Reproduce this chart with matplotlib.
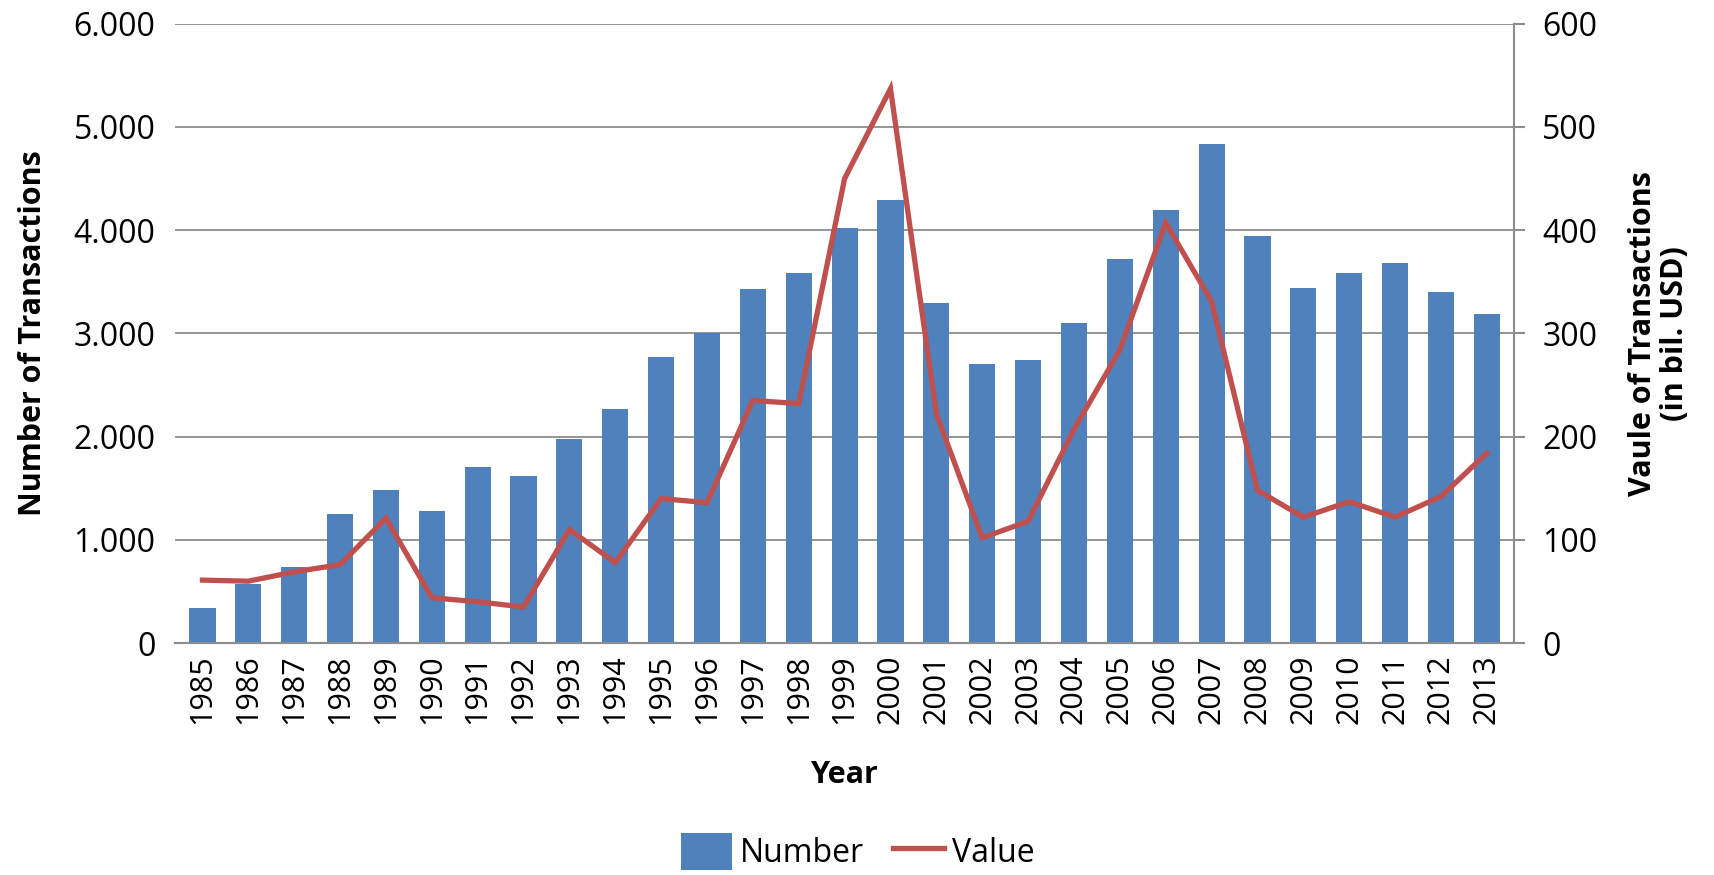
import numpy as np
import matplotlib
matplotlib.use("Agg")
import matplotlib.pyplot as plt
from matplotlib.ticker import FuncFormatter

plt.rcParams['font.family'] = ['Open Sans', 'DejaVu Sans']

# data
years = list(range(1985, 2014))
number = [343, 572, 740, 1246, 1483, 1283, 1708, 1614, 1978, 2272,
          2771, 3000, 3425, 3588, 4017, 4287, 3294, 2701, 2746, 3102,
          3723, 4197, 4830, 3939, 3437, 3580, 3682, 3400, 3191]
value = [61, 60, 69, 76, 121, 44, 40, 35, 110, 78,
         140, 136, 235, 232, 450, 537, 222, 102, 118, 207,
         284, 407, 331, 148, 122, 137, 122, 142, 184]

bar_color = '#4F81BD'
line_color = '#C0504D'
grid_color = '#8C8C8C'

fig = plt.figure(figsize=(17.15, 8.75), dpi=100)
ax = fig.add_axes([0.102, 0.265, 0.781, 0.708])
ax2 = ax.twinx()

x = np.arange(len(years))
bars = ax.bar(x, number, width=0.57, color=bar_color, zorder=2, label='Number')
line, = ax2.plot(x, value, color=line_color, linewidth=3.8, zorder=3,
                 solid_joinstyle='miter', label='Value')

ax.set_xlim(-0.6, len(years) - 0.4)
ax.set_ylim(0, 6000)
ax2.set_ylim(0, 600)
ax.set_yticks(np.arange(0, 6001, 1000))
ax2.set_yticks(np.arange(0, 601, 100))
ax.yaxis.set_major_formatter(FuncFormatter(lambda v, p: f"{int(v):,}".replace(',', '.')))

ax.yaxis.grid(True, color=grid_color, linewidth=1.3, zorder=0)
ax.set_axisbelow(True)

ax.set_xticks(x)
ax.set_xticklabels([str(y) for y in years], rotation=90)

for a in (ax, ax2):
    a.spines['top'].set_visible(False)
    a.spines['left'].set_visible(False)
    a.spines['right'].set_visible(False)
    a.spines['bottom'].set_color(grid_color)
    a.spines['bottom'].set_linewidth(1.5)
ax2.spines['right'].set_visible(True)
ax2.spines['right'].set_color(grid_color)
ax2.spines['right'].set_linewidth(1.5)

ax.tick_params(axis='y', length=0, labelsize=23, pad=14)
ax.tick_params(axis='x', length=0, labelsize=22, pad=8)
ax2.tick_params(axis='y', length=8, width=1.5, color=grid_color, labelsize=23, pad=12)

ax.set_ylabel('Number of Transactions', fontsize=22, fontweight='bold', labelpad=18)
ax2.set_ylabel('Vaule of Transactions\n(in bil. USD)', fontsize=22, fontweight='bold',
               labelpad=22, linespacing=1.1)
ax.set_xlabel('Year', fontsize=22, fontweight='bold', labelpad=26)

fig.legend([bars, line], ['Number', 'Value'], loc='lower center',
           bbox_to_anchor=(0.5, 0.0), borderaxespad=0.0, borderpad=0.15, ncol=2,
           frameon=False, fontsize=23, handlelength=1.6, handleheight=1.4,
           columnspacing=0.9, handletextpad=0.25)

fig.savefig('out.png', dpi=100)
